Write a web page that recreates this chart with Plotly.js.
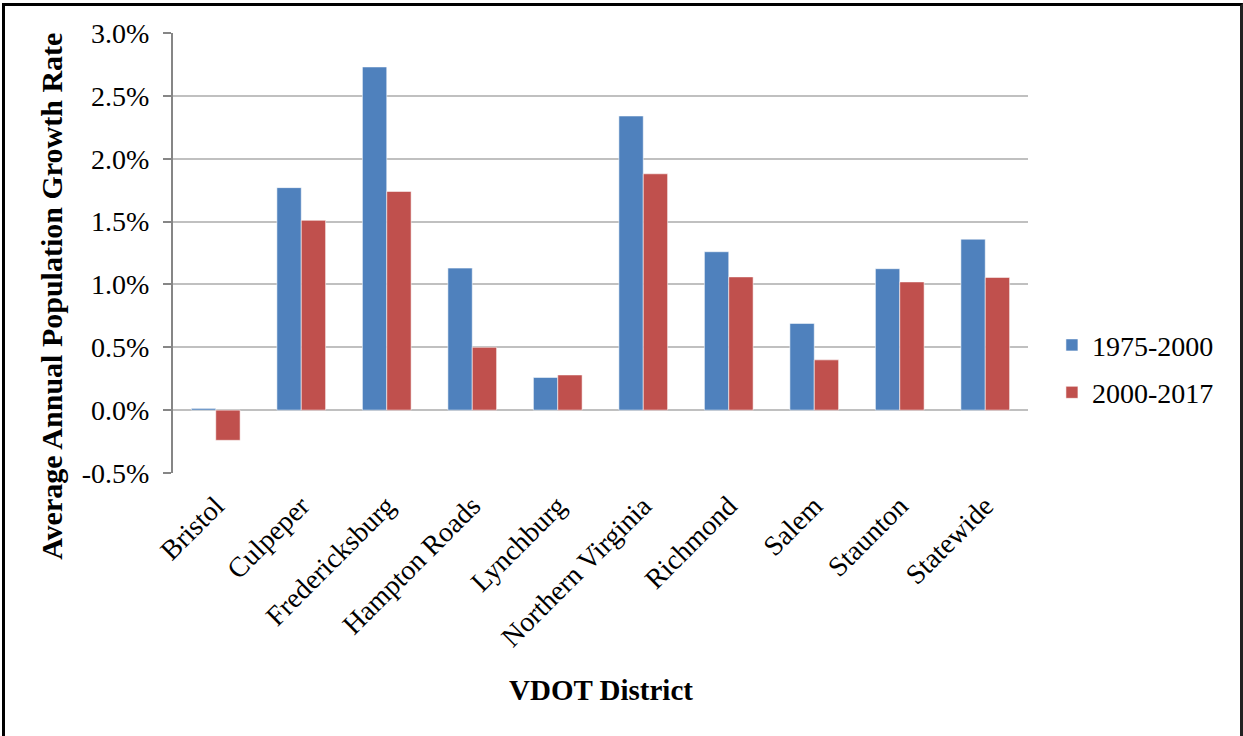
<!DOCTYPE html>
<html>
<head>
<meta charset="utf-8">
<script src="https://cdn.plot.ly/plotly-3.0.1.min.js"></script>
<style>
  html, body { margin: 0; padding: 0; background: #ffffff; }
  #chart { position: absolute; left: 0; top: 0; width: 1243px; height: 736px; }
  #frame { position: absolute; left: 2px; top: 3px; width: 1235px; height: 731px;
           border-left: 3px solid #000; border-top: 3px solid #000; border-right: 3px solid #222;
           border-bottom: 1px solid #bbb; pointer-events: none; box-sizing: content-box; }
</style>
</head>
<body>
<div id="chart"></div>
<div id="frame"></div>
<script>
const categories = ["Bristol", "Culpeper", "Fredericksburg", "Hampton Roads", "Lynchburg",
                    "Northern Virginia", "Richmond", "Salem", "Staunton", "Statewide"];
const series1Name = "1975-2000";
const series2Name = "2000-2017";
const series1 = [0.014, 1.77, 2.73, 1.13, 0.26, 2.34, 1.26, 0.69, 1.125, 1.36];
const series2 = [-0.24, 1.51, 1.74, 0.50, 0.28, 1.88, 1.06, 0.40, 1.02, 1.056];
const yTickVals = [-0.5, 0.0, 0.5, 1.0, 1.5, 2.0, 2.5, 3.0];
const yTickText = yTickVals.map(v => v.toFixed(1) + "%");
const xTitle = "VDOT District";
const yTitle = "Average Annual Population Growth Rate";

const FONT = "Liberation Serif, Times New Roman, serif";
const boundaries = [];
for (let i = 0; i <= categories.length; i++) boundaries.push(i - 0.5);

const traces = [
  { type: "bar", name: series1Name, x: categories, y: series1, legendgroup: "a",
    marker: { color: "#4F81BD", line: { color: "rgba(255,255,255,0.7)", width: 0.8 } },
    hoverinfo: "x+y" },
  { type: "bar", name: series2Name, x: categories, y: series2, legendgroup: "b",
    marker: { color: "#C0504D", line: { color: "rgba(255,255,255,0.7)", width: 0.8 } },
    hoverinfo: "x+y" }
];

const layout = {
  width: 1243, height: 736,
  paper_bgcolor: "#ffffff", plot_bgcolor: "#ffffff",
  margin: { l: 173, r: 215, t: 33, b: 263, pad: 0 },
  barmode: "group", bargap: 0.43, bargroupgap: 0,
  font: { family: FONT, color: "#000", size: 28 },
  showlegend: true,
  legend: { x: 1.028, xanchor: "left", y: 0.237, yanchor: "middle",
            font: { family: FONT, size: 28, color: "#000" }, tracegroupgap: 8,
            itemwidth: 30, bgcolor: "rgba(0,0,0,0)" },
  xaxis: {
    type: "category", categoryorder: "array", categoryarray: categories,
    range: [-0.5, categories.length - 0.5],
    showline: false, showgrid: false, zeroline: false, ticks: "",
    tickangle: -45, ticklabelstandoff: 10,
    tickfont: { family: FONT, size: 28, color: "#000" },
    automargin: false
  },
  xaxis2: {
    overlaying: "x", anchor: "free", position: 0.5 / 3.5,
    type: "linear", range: [-0.5, categories.length - 0.5],
    tickmode: "array", tickvals: boundaries, ticktext: boundaries.map(() => ""),
    showticklabels: false, ticks: "outside", ticklen: 8, tickwidth: 2, tickcolor: "#868686",
    showline: true, linecolor: "#868686", linewidth: 2, showgrid: false, zeroline: false,
    side: "bottom"
  },
  yaxis: {
    range: [-0.5, 3.0], tickmode: "array", tickvals: yTickVals, ticktext: yTickText,
    ticks: "outside", ticklen: 8, tickwidth: 2, tickcolor: "#868686",
    showline: true, linecolor: "#868686", linewidth: 2,
    showgrid: true, gridcolor: "#c0c0c0", gridwidth: 2, zeroline: false,
    ticklabelstandoff: 8,
    tickfont: { family: FONT, size: 28, color: "#000" },
    automargin: false
  },
  annotations: [
    { text: "<b>" + yTitle + "</b>", textangle: -90, xref: "paper", yref: "paper",
      x: -0.143, y: 0.402, xanchor: "center", yanchor: "middle", showarrow: false,
      font: { family: FONT, size: 30, color: "#000" } },
    { text: "<b>" + xTitle + "</b>", xref: "paper", yref: "paper",
      x: 0.5, y: -0.493, xanchor: "center", yanchor: "middle", showarrow: false,
      font: { family: FONT, size: 29, color: "#000" } }
  ]
};

Plotly.newPlot("chart", traces, layout, { displayModeBar: false, staticPlot: true });
</script>
</body>
</html>
